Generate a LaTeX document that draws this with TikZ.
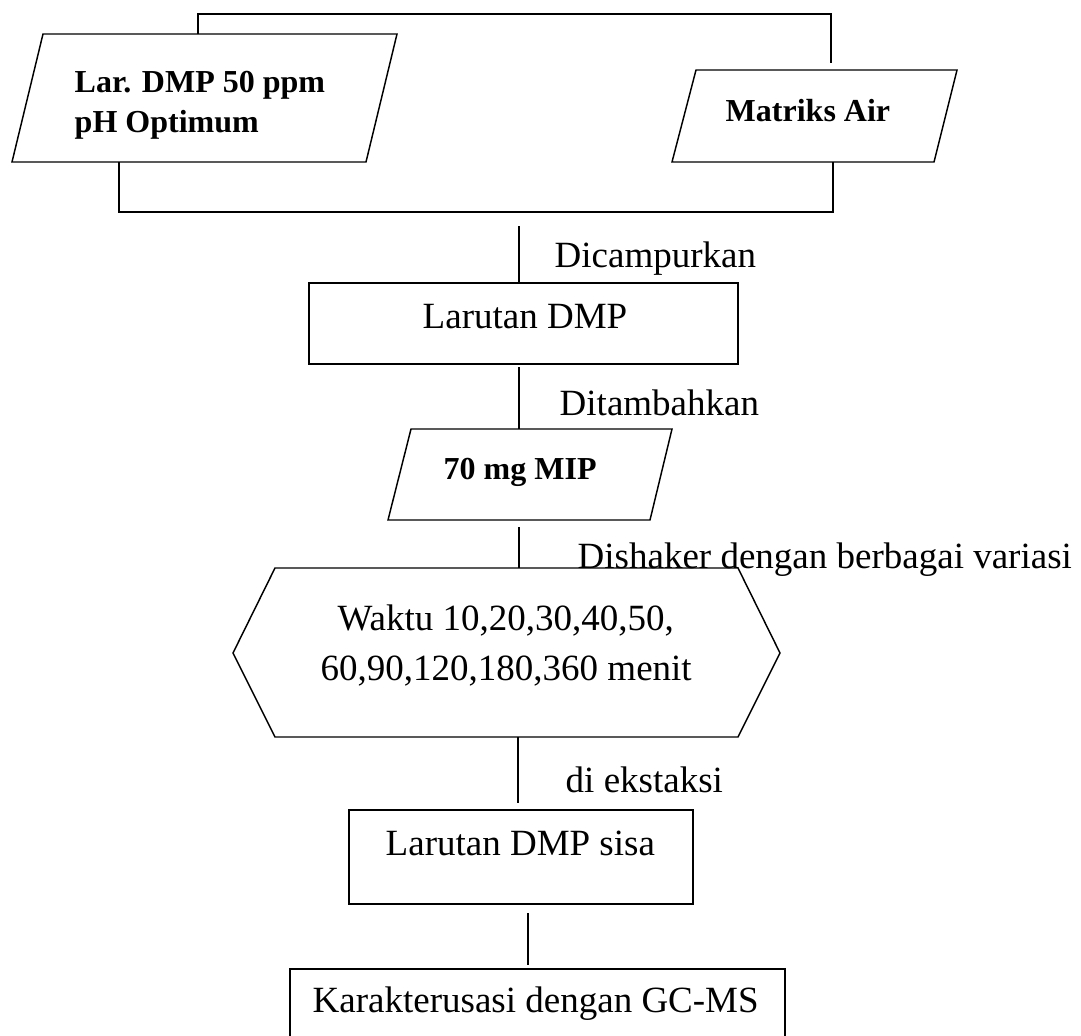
\documentclass[tikz,border=0pt]{standalone}
\usepackage{fontspec}
\setmainfont{Liberation Serif}
\begin{document}
\begin{tikzpicture}[x=0.75pt, y=-0.75pt, line width=1.1pt,
  lbl/.style={inner sep=0pt, anchor=base west, font=\fontsize{27.75}{33}\selectfont},
  blbl/.style={inner sep=0pt, anchor=base west, font=\fontsize{24}{30}\selectfont\bfseries},
  shape line/.style={draw=black, line join=miter},
  link/.style={draw=black, line cap=butt}]
\useasboundingbox (0,0) rectangle (1081,1035);
\clip (0,0) rectangle (1081,1035);

% input parallelograms
\draw[shape line] (43,34) -- (397,34) -- (366,162) -- (12,162) -- cycle;
\draw[shape line] (696,70) -- (957,70) -- (934,162) -- (672,162) -- cycle;
\node[blbl] (dmp50) at (74,92) {Lar. DMP 50 ppm};
\node[blbl] (phopt) at (74,132) {pH Optimum};
\node[blbl] (matriks) at (725,121) {Matriks Air};

% joining brackets
\coordinate (tl) at (198,34);
\coordinate (tr) at (831,63);
\coordinate (bl) at (119,162);
\coordinate (br) at (833,162);
\draw[link] (tl) |- (198,14) -| (tr);
\draw[link] (bl) |- (833,212) -- (br);

% step: mixed solution
\draw[shape line] (309,283) rectangle (738,364);
\node[lbl] (larutan) at (422,328) {Larutan DMP};
\coordinate (c1a) at (519,226);
\coordinate (c1b) at (519,283);
\draw[link] (c1a) -- (c1b);
\node[lbl] (campur) at (554,267) {Dicampurkan};

% step: add MIP
\draw[shape line] (411,429) -- (672,429) -- (650,520) -- (388,520) -- cycle;
\node[blbl] (mip) at (443,479) {70 mg MIP};
\coordinate (c2a) at (519,367);
\coordinate (c2b) at (519,429);
\draw[link] (c2a) -- (c2b);
\node[lbl] (tambah) at (559,415) {Ditambahkan};

% step: shaking time variation
\draw[shape line] (275,568) -- (738,568) -- (780,653) -- (738,737) -- (275,737) -- (233,653) -- cycle;
\node[lbl] (waktu1) at (337,630) {Waktu 10,20,30,40,50,};
\node[lbl] (waktu2) at (320,680) {60,90,120,180,360 menit};
\coordinate (c3a) at (519,527);
\coordinate (c3b) at (519,568);
\draw[link] (c3a) -- (c3b);
\node[lbl] (shaker) at (577,568) {Dishaker dengan berbagai variasi};

% step: remaining solution
\draw[shape line] (349,810) rectangle (693,904);
\node[lbl] (sisa) at (385,855) {Larutan DMP sisa};
\coordinate (c4a) at (518,737);
\coordinate (c4b) at (518,803);
\draw[link] (c4a) -- (c4b);
\node[lbl] (ekstraksi) at (565,792) {di ekstaksi};

% step: GC-MS
\draw[shape line] (290,969) rectangle (785,1050);
\node[lbl] (gcms) at (312,1012) {Karakterusasi dengan GC-MS};
\coordinate (c5a) at (528,913);
\coordinate (c5b) at (528,965);
\draw[link] (c5a) -- (c5b);
\end{tikzpicture}
\end{document}
